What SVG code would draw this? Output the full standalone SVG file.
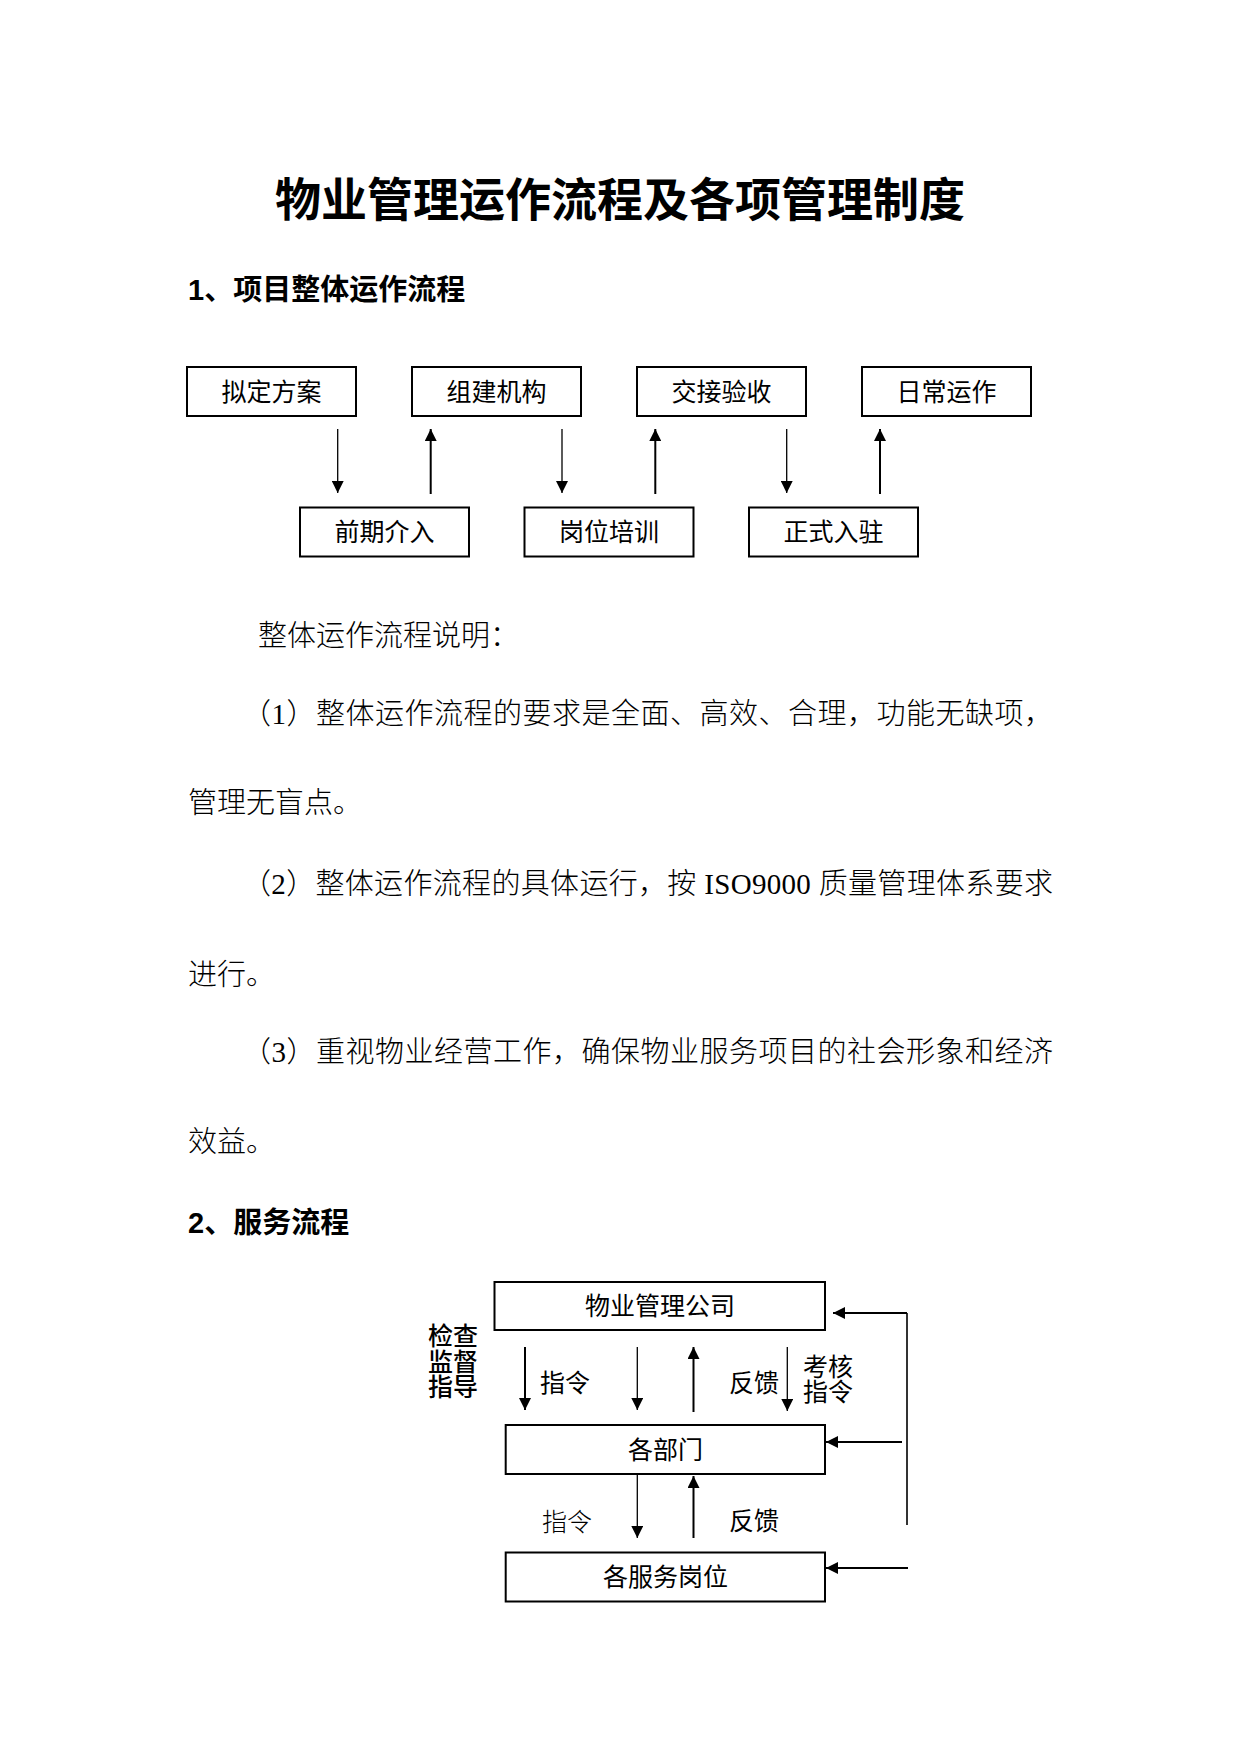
<svg xmlns="http://www.w3.org/2000/svg" width="1240" height="1754" viewBox="0 0 1240 1754">
<defs>
<style>
.box{fill:#fff;stroke:#000;stroke-width:2}
.bt{font-family:"Liberation Sans","Noto Sans CJK SC",sans-serif;font-size:25px;fill:#000;text-anchor:middle}
.lbl{font-family:"Liberation Sans","Noto Sans CJK SC",sans-serif;font-size:25px;fill:#000}
.body{font-family:"Liberation Serif","Noto Sans CJK SC",serif;font-size:29px;fill:#000;font-weight:300}
.h{font-family:"Liberation Sans","Noto Sans CJK SC",sans-serif;font-weight:700;fill:#000}
.thin{stroke:#000;stroke-width:1.3;fill:none}
.thick{stroke:#000;stroke-width:2;fill:none}
.gray{stroke:#333;stroke-width:2;fill:none}
</style>
<marker id="ah" viewBox="0 0 12 12" refX="12" refY="6" markerWidth="12" markerHeight="12" markerUnits="userSpaceOnUse" orient="auto">
<path d="M0,0 L12,6 L0,12 z" fill="#000"/>
</marker>
</defs>
<rect width="1240" height="1754" fill="#fff"/>

<text class="h" x="620" y="216" font-size="46" text-anchor="middle">物业管理运作流程及各项管理制度</text>
<text class="h" x="188" y="300" font-size="29">1、项目整体运作流程</text>

<g id="n1"><rect class="box" x="187" y="367" width="169" height="49"/><text class="bt" x="271.5" y="401">拟定方案</text></g>
<g id="n2"><rect class="box" x="412" y="367" width="169" height="49"/><text class="bt" x="496.5" y="401">组建机构</text></g>
<g id="n3"><rect class="box" x="637" y="367" width="169" height="49"/><text class="bt" x="721.5" y="401">交接验收</text></g>
<g id="n4"><rect class="box" x="862" y="367" width="169" height="49"/><text class="bt" x="946.5" y="401">日常运作</text></g>
<g id="n5"><rect class="box" x="300" y="507.5" width="169" height="49"/><text class="bt" x="384.5" y="541">前期介入</text></g>
<g id="n6"><rect class="box" x="524.5" y="507.5" width="169" height="49"/><text class="bt" x="609" y="541">岗位培训</text></g>
<g id="n7"><rect class="box" x="749" y="507.5" width="169" height="49"/><text class="bt" x="833.5" y="541">正式入驻</text></g>

<g id="connectors1">
<line class="thin" x1="337.7" y1="429" x2="337.7" y2="493" marker-end="url(#ah)"/>
<line class="thick" x1="430.7" y1="494" x2="430.7" y2="429" marker-end="url(#ah)"/>
<line class="thin" x1="562" y1="429" x2="562" y2="493" marker-end="url(#ah)"/>
<line class="thick" x1="655.3" y1="494" x2="655.3" y2="429" marker-end="url(#ah)"/>
<line class="thin" x1="786.7" y1="429" x2="786.7" y2="493" marker-end="url(#ah)"/>
<line class="thick" x1="880" y1="494" x2="880" y2="429" marker-end="url(#ah)"/>
</g>

<text class="body" x="258" y="646">整体运作流程说明：</text>
<text class="body" x="242" y="724" textLength="811" lengthAdjust="spacing">（1）整体运作流程的要求是全面、高效、合理，功能无缺项，</text>
<text class="body" x="188" y="813">管理无盲点。</text>
<text class="body" x="242" y="894" textLength="811" lengthAdjust="spacing">（2）整体运作流程的具体运行，按 ISO9000 质量管理体系要求</text>
<text class="body" x="188" y="985">进行。</text>
<text class="body" x="242" y="1062" textLength="811" lengthAdjust="spacing">（3）重视物业经营工作，确保物业服务项目的社会形象和经济</text>
<text class="body" x="188" y="1152">效益。</text>

<text class="h" x="188" y="1233" font-size="29">2、服务流程</text>

<g id="s1"><rect class="box" x="494.5" y="1282" width="330.5" height="48"/><text class="bt" x="660" y="1315">物业管理公司</text></g>
<g id="s2"><rect class="box" x="505.7" y="1425" width="319.3" height="49"/><text class="bt" x="665.5" y="1458.5">各部门</text></g>
<g id="s3"><rect class="box" x="505.7" y="1552.5" width="319.3" height="49"/><text class="bt" x="665.5" y="1586">各服务岗位</text></g>

<g id="connectors2">
<line class="thick" x1="525" y1="1347" x2="525" y2="1410" marker-end="url(#ah)"/>
<line class="thin" x1="637.3" y1="1347" x2="637.3" y2="1410" marker-end="url(#ah)"/>
<line class="thick" x1="693.5" y1="1412" x2="693.5" y2="1347" marker-end="url(#ah)"/>
<line class="thin" x1="787.3" y1="1347" x2="787.3" y2="1411" marker-end="url(#ah)"/>
<line class="thin" x1="637.3" y1="1474" x2="637.3" y2="1538" marker-end="url(#ah)"/>
<line class="thick" x1="693.5" y1="1538" x2="693.5" y2="1476" marker-end="url(#ah)"/>
<line class="gray" x1="907" y1="1313" x2="907" y2="1525"/>
<line class="thick" x1="907" y1="1313" x2="833" y2="1313" marker-end="url(#ah)"/>
<line class="thick" x1="902" y1="1442" x2="826" y2="1442" marker-end="url(#ah)"/>
<line class="thick" x1="908" y1="1568" x2="826" y2="1568" marker-end="url(#ah)"/>
</g>

<g id="labels">
<text class="lbl" x="428" y="1345" font-weight="500">检查</text>
<text class="lbl" x="428" y="1370.5" font-weight="500">监督</text>
<text class="lbl" x="428" y="1396" font-weight="500">指导</text>
<text class="lbl" x="540" y="1392">指令</text>
<text class="lbl" x="729" y="1392">反馈</text>
<text class="lbl" x="803" y="1376" font-size="24">考核</text>
<text class="lbl" x="803" y="1401" font-size="24">指令</text>
<text class="lbl" x="542" y="1531" font-weight="300" fill="#222">指令</text>
<text class="lbl" x="729" y="1530">反馈</text>
</g>
</svg>
